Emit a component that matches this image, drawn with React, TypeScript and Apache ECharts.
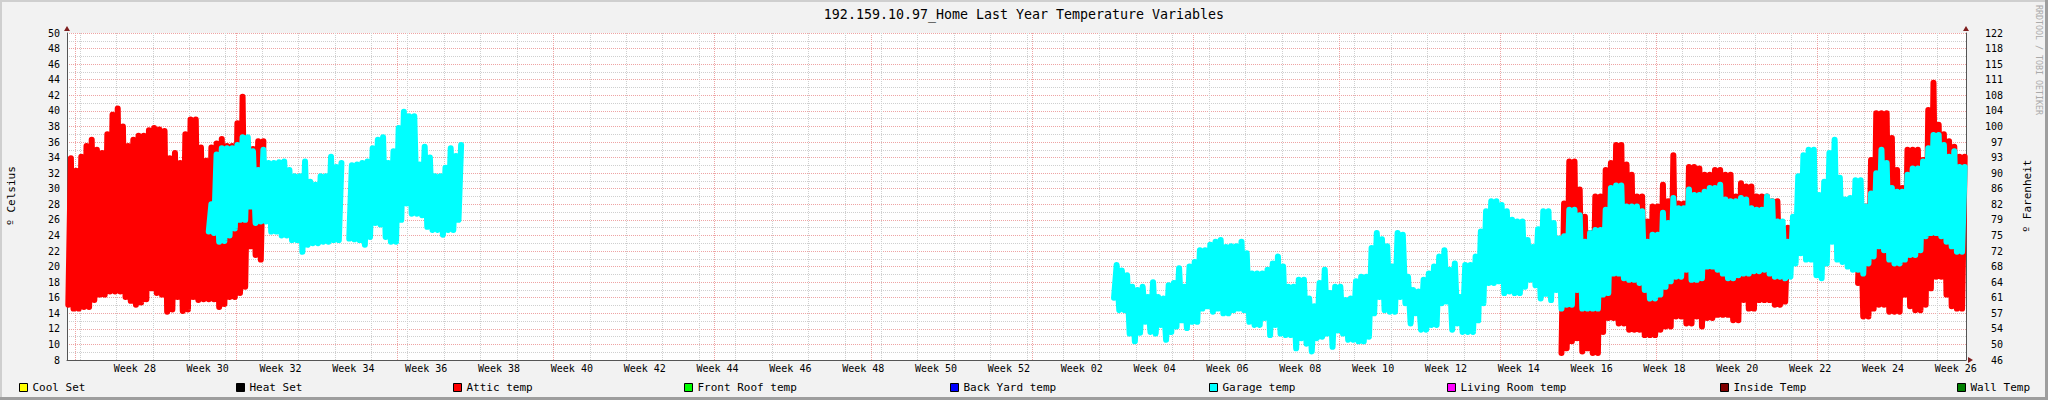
import React, { useEffect, useRef } from "react";
import * as echarts from "echarts";

// ---------- texts ----------
const TITLE = "192.159.10.97_Home Last Year Temperature Variables";
const Y_LEFT_NAME = "º Celsius";
const Y_RIGHT_NAME = "º Farenheit";
const WATERMARK = "RRDTOOL / TOBI OETIKER";

// ---------- axes ----------
const DAYS_IN_VIEW = 365;
const CELSIUS_MIN = 8;
const CELSIUS_MAX = 50;
const CELSIUS_STEP = 2;
const FAHRENHEIT_TICKS = [
  "46", "50", "54", "57", "61", "64", "68", "72", "75", "79", "82",
  "86", "90", "93", "97", "100", "104", "108", "111", "115", "118", "122",
];
const WEEK_LABELS = [
  "Week 28", "Week 30", "Week 32", "Week 34", "Week 36", "Week 38", "Week 40",
  "Week 42", "Week 44", "Week 46", "Week 48", "Week 50", "Week 52", "Week 02",
  "Week 04", "Week 06", "Week 08", "Week 10", "Week 12", "Week 14", "Week 16",
  "Week 18", "Week 20", "Week 22", "Week 24", "Week 26",
];
// day offsets (from the left edge of the graph) of calendar boundaries
const FIRST_MONDAY_DAY = 2.54;
const MONTH_START_DAYS = [
  1.54, 32.54, 63.54, 93.54, 124.54, 154.54, 185.54, 216.54, 244.54, 275.54, 305.54, 336.54,
];

// ---------- legend ----------
const LEGEND_NAMES = [
  "Cool Set", "Heat Set", "Attic temp", "Front Roof temp", "Back Yard temp",
  "Garage temp", "Living Room temp", "Inside Temp", "Wall Temp",
];
const LEGEND_COLORS = [
  "#FFFF00", "#000000", "#FF0000", "#00FF00", "#0000FF",
  "#00FFFF", "#FF00FF", "#800000", "#008000",
];

// ---------- data : daily low / high (°C), one entry per day ----------
const ATTIC_1_START = 0;
const ATTIC_1_HIGH = [
  33.9, 32.3, 34.1, 35.5, 36.3, 35.0, 34.6, 37.0, 39.5, 40.3,
  38.0, 35.5, 36.3, 36.8, 36.8, 37.5, 37.8, 37.6, 37.4, 33.9,
  34.6, 33.3, 37.0, 38.9, 38.9, 35.3, 33.6, 35.3, 35.8, 36.4,
  35.5, 35.5, 38.4, 41.8, 36.0, 35.1, 36.1, 36.1,
];
const ATTIC_1_LOW = [
  15.1, 14.6, 14.6, 14.8, 14.8, 15.7, 16.4, 16.4, 16.8, 16.8,
  16.8, 16.1, 15.6, 15.1, 15.4, 15.8, 17.2, 16.6, 16.4, 14.2,
  14.5, 16.1, 14.3, 14.5, 16.1, 15.7, 15.8, 15.8, 15.8, 14.8,
  15.2, 16.1, 16.1, 16.6, 17.4, 22.6, 21.5, 20.9,
];
const ATTIC_2_START = 287;
const ATTIC_2_HIGH = [
  28.1, 33.5, 33.5, 29.9, 26.4, 24.3, 29.0, 29.0, 32.4, 33.3,
  35.6, 35.6, 33.1, 31.8, 29.0, 29.0, 25.8, 27.7, 27.7, 30.5,
  28.4, 34.3, 28.1, 28.1, 32.8, 32.8, 32.6, 31.8, 31.8, 32.4,
  32.4, 31.8, 31.8, 29.0, 30.7, 30.3, 30.3, 29.0, 29.0, 29.0,
  28.4, 28.4, 25.0, 25.0,
];
const ATTIC_2_LOW = [
  8.9, 9.5, 10.4, 10.8, 9.1, 9.5, 8.9, 8.9, 11.6, 13.4,
  13.4, 12.7, 12.7, 11.9, 11.9, 11.9, 11.2, 11.2, 11.2, 11.9,
  12.3, 12.3, 13.6, 13.6, 12.7, 12.7, 13.6, 12.3, 13.4, 13.4,
  13.8, 13.8, 13.8, 13.1, 13.1, 15.7, 14.6, 14.6, 15.7, 15.7,
  15.7, 15.1, 15.1, 15.5,
];
const ATTIC_3_START = 344;
const ATTIC_3_HIGH = [
  27.7, 27.7, 33.7, 39.7, 39.7, 39.7, 36.5, 32.4, 30.1, 35.0,
  35.0, 35.0, 33.7, 40.1, 43.6, 38.2, 37.0, 36.1, 35.4, 34.1, 34.1,
];
const ATTIC_3_LOW = [
  17.9, 13.6, 13.6, 14.6, 15.1, 15.1, 14.2, 14.2, 14.2, 16.4,
  14.9, 14.4, 14.4, 15.1, 17.2, 18.7, 18.7, 16.4, 14.9, 14.6, 14.6,
];

const GARAGE_1_START = 27;
const GARAGE_1_HIGH = [
  28.0, 34.4, 35.2, 35.2, 35.2, 35.6, 36.6, 36.6, 34.8, 32.4,
  35.0, 33.3, 33.3, 33.4, 33.5, 32.4, 31.6, 31.6, 33.5, 30.9,
  30.5, 31.6, 31.6, 34.1, 32.8, 33.3, null, 33.0, 33.1, 33.3,
  33.5, 35.2, 36.3, 36.6, 33.3, 34.8, 37.8, 39.9, 39.3, 39.3,
  33.1, 35.4, 34.0, 31.6, 31.6, 32.7, 35.2, 34.2, 35.6,
];
const GARAGE_1_LOW = [
  24.5, 24.3, 23.2, 23.3, 24.0, 24.9, 26.0, 26.0, 27.7, 25.6,
  25.8, 25.8, 24.5, 24.5, 24.0, 24.0, 23.4, 23.4, 21.9, 22.8,
  23.0, 23.0, 23.2, 23.2, 23.4, 23.4, null, 23.6, 23.5, 23.4,
  22.8, 23.8, 25.6, 25.4, 23.8, 23.2, 23.2, 26.0, 28.1, 26.8,
  26.8, 26.6, 25.1, 24.7, 24.7, 24.1, 24.7, 24.7, 26.0,
];
const GARAGE_2_START = 201;
const GARAGE_2_HIGH = [
  20.2, 19.5, 18.9, 17.4, 17.0, 17.4, 16.1, 18.0, 16.1, 15.9,
  17.6, 17.9, 19.8, 17.4, 20.0, 20.6, 22.1, 22.1, 22.8, 23.2,
  23.4, 22.5, 22.6, 22.6, 23.2, 21.7, 19.1, 19.1, 19.1, 19.6,
  20.4, 21.3, 20.0, 17.4, 17.4, 18.3, 18.3, 15.9, 14.9, 17.9,
  19.6, 16.6, 17.4, 17.4, 15.7, 15.9, 18.1, 18.7, 18.7, 22.4,
  24.3, 23.5, 22.6, 20.0, 24.3, 24.1, 18.7, 17.0, 16.8, 18.3,
  19.1, 20.0, 21.3, 22.1, 19.6, 20.4, 16.1, 20.2, 20.2, 21.3,
  24.5, 27.1, 28.4, 28.4, 27.9, 27.1, 26.0, 25.8, 25.8, 23.4,
  22.5, 24.8, 27.1, 27.1, 25.6, 23.6, 23.9, 27.3, 27.3, 26.6,
  23.2, 24.3, 24.7, 24.7, 27.3, 30.1, 30.4, 30.4, 27.7, 27.7,
  27.7, 27.1, 23.2, 24.1, 24.1, 26.9, 25.6, 28.8, 27.5, 27.5,
  29.9, 29.2, 29.2, 29.6, 30.1, 30.1, 30.5, 28.6, 28.4, 28.4,
  28.8, 28.6, 27.5, 27.3, 27.3, 29.0, 28.4, 25.8, 25.8, 23.2,
  26.4, 31.6, 34.3, 35.0, 35.0, 29.2, 30.9, 34.6, 36.3, 31.4,
  28.6, 28.8, 31.1, 31.1, 27.7, 29.4, 32.0, 35.0, 33.3, 30.1,
  29.6, 29.6, 31.8, 32.6, 32.6, 33.5, 35.2, 36.9, 36.9, 35.6,
  34.1, 34.8, 32.8, 32.8,
];
const GARAGE_2_LOW = [
  16.0, 14.4, 14.4, 11.4, 10.4, 11.5, 12.9, 11.6, 11.4, 12.5,
  10.6, 11.6, 12.3, 13.1, 12.1, 12.9, 12.9, 14.6, 14.9, 14.2,
  14.6, 14.0, 14.0, 14.4, 14.6, 14.4, 12.9, 12.5, 12.5, 13.4,
  11.2, 12.5, 11.4, 11.2, 11.2, 9.5, 10.8, 10.1, 9.1, 10.8,
  11.0, 11.4, 9.7, 11.8, 11.4, 10.6, 10.6, 10.4, 10.4, 11.0,
  14.0, 16.1, 14.4, 14.2, 14.2, 16.1, 15.3, 12.7, 14.0, 11.9,
  11.9, 12.5, 12.5, 15.3, 15.5, 11.9, 12.7, 11.6, 11.6, 11.6,
  13.1, 15.3, 17.9, 17.9, 18.1, 16.6, 16.8, 16.6, 16.6, 17.4,
  18.3, 17.6, 15.9, 16.5, 15.7, 17.0, 14.6, 15.1, 15.1, 17.0,
  14.6, 14.6, 14.6, 14.6, 16.4, 16.6, 19.1, 19.1, 18.5, 18.3,
  18.3, 17.9, 17.0, 15.9, 15.9, 16.4, 17.4, 18.1, 18.7, 18.7,
  19.6, 18.3, 18.3, 18.5, 20.0, 20.0, 19.6, 19.1, 18.5, 18.5,
  18.9, 19.1, 19.1, 19.4, 19.4, 19.6, 19.1, 18.7, 18.7, 18.5,
  18.7, 20.4, 21.7, 20.9, 20.9, 18.9, 18.5, 20.4, 23.2, 20.9,
  20.6, 20.0, 19.6, 19.6, 19.1, 20.4, 21.3, 22.6, 22.1, 20.9,
  20.4, 20.4, 20.9, 21.5, 21.5, 22.1, 23.9, 24.3, 24.3, 23.9,
  23.2, 22.6, 21.9, 21.9,
];

type Seg = { start: number; low: (number | null)[]; high: (number | null)[] };

// each day drawn as low (early) and high (late) sample -> thick RRD-like line
function dailySwing(segs: Seg[]): [number, number | null][] {
  const pts: [number, number | null][] = [];
  segs.forEach((s, si) => {
    if (si > 0) pts.push([s.start - 0.5, null]);
    s.low.forEach((lo, i) => {
      const d = s.start + i;
      const hi = s.high[i];
      if (lo == null || hi == null) {
        pts.push([d + 0.5, null]);
        return;
      }
      pts.push([d + 0.25, lo]);
      pts.push([d + 0.75, hi]);
    });
  });
  return pts;
}

const MONO = "DejaVu Sans Mono";
const MAJOR_GRID = "#eea4a4";
const MINOR_GRID = "#cfcfcf";
const AXIS_COLOR = "#555555";
const ARROW_COLOR = "#7f1f1f";

export default function App() {
  const ref = useRef<HTMLDivElement>(null);

  useEffect(() => {
    document.body.style.margin = "0";
    if (!ref.current) return;
    const chart = echarts.init(ref.current, undefined, { renderer: "svg" });

    const W = 2048;
    const H = 400;
    const G = { left: 67, right: 82, top: 33, bottom: 40 };
    const gx0 = G.left;
    const gx1 = W - G.right;
    const gy0 = G.top;
    const gy1 = H - G.bottom;
    const pxPerDay = (gx1 - gx0) / DAYS_IN_VIEW;
    // snap a grid day onto a pixel centre so the 1px dotted lines stay crisp
    const snap = (d: number) => (Math.floor(gx0 + d * pxPerDay) + 0.5 - gx0) / pxPerDay;

    const weekGridDays: number[] = [];
    for (let d = FIRST_MONDAY_DAY; d < DAYS_IN_VIEW; d += 7) weekGridDays.push(snap(d));
    const monthGridDays = MONTH_START_DAYS.map(snap);
    const weekLabelDays = WEEK_LABELS.map((_, i) => FIRST_MONDAY_DAY + 7 + 3.5 + 14 * i);

    const atticData = dailySwing([
      { start: ATTIC_1_START, low: ATTIC_1_LOW, high: ATTIC_1_HIGH },
      { start: ATTIC_2_START, low: ATTIC_2_LOW, high: ATTIC_2_HIGH },
      { start: ATTIC_3_START, low: ATTIC_3_LOW, high: ATTIC_3_HIGH },
    ]);
    const garageData = dailySwing([
      { start: GARAGE_1_START, low: GARAGE_1_LOW, high: GARAGE_1_HIGH },
      { start: GARAGE_2_START, low: GARAGE_2_LOW, high: GARAGE_2_HIGH },
    ]);

    const dataFor: Record<string, [number, number | null][]> = {
      "Attic temp": atticData,
      "Garage temp": garageData,
    };

    const LEGEND_X = [19, 236, 453, 684, 950, 1209, 1447, 1720, 1957];

    const gridSeries = (name: string, days: number[], color: string) => ({
      name,
      type: "line",
      data: [[0, null]],
      silent: true,
      z: 1,
      markLine: {
        silent: true,
        symbol: ["none", "none"],
        label: { show: false },
        emphasis: { disabled: true },
        animation: false,
        lineStyle: { color, type: [1, 1], width: 1, opacity: 1 },
        data: days.map((d) => ({ xAxis: d })),
      },
    });

    const series: any[] = [
      gridSeries("_weekGrid", weekGridDays, MINOR_GRID),
      gridSeries("_monthGrid", monthGridDays, MAJOR_GRID),
    ];
    LEGEND_NAMES.forEach((name, i) => {
      series.push({
        name,
        type: "line",
        color: LEGEND_COLORS[i],
        data: dataFor[name] || [],
        showSymbol: false,
        symbol: "none",
        connectNulls: false,
        z: name === "Garage temp" ? 11 : 10,
        silent: true,
        lineStyle: { width: 6, color: LEGEND_COLORS[i], cap: "round", join: "round" },
      });
    });

    const option: any = {
      animation: false,
      backgroundColor: "#f2f2f2",
      title: {
        text: TITLE,
        left: "center",
        top: 3,
        textStyle: { fontFamily: MONO, fontSize: 13.3, fontWeight: "normal", color: "#000" },
      },
      grid: { ...G, show: true, backgroundColor: "#ffffff", borderWidth: 0 },
      xAxis: {
        type: "value",
        min: 0,
        max: DAYS_IN_VIEW,
        axisLine: { show: true, lineStyle: { color: AXIS_COLOR, width: 1 } },
        axisTick: { show: false },
        splitLine: { show: false },
        axisLabel: {
          customValues: weekLabelDays,
          formatter: (v: number) => {
            const i = weekLabelDays.findIndex((d) => Math.abs(d - v) < 0.01);
            return i >= 0 ? WEEK_LABELS[i] : "";
          },
          fontFamily: MONO,
          fontSize: 10,
          color: "#000",
          margin: 3,
        },
      },
      yAxis: [
        {
          type: "value",
          position: "left",
          min: CELSIUS_MIN,
          max: CELSIUS_MAX,
          interval: CELSIUS_STEP,
          axisLine: { show: true, lineStyle: { color: AXIS_COLOR, width: 1 } },
          axisTick: { show: false },
          axisLabel: { fontFamily: MONO, fontSize: 10, color: "#000", margin: 7 },
          splitLine: { show: true, lineStyle: { color: MAJOR_GRID, type: [1, 1], width: 1 } },
          minorTick: { show: false, splitNumber: 2 },
          minorSplitLine: { show: true, lineStyle: { color: MINOR_GRID, type: [1, 1], width: 1 } },
        },
        {
          type: "value",
          position: "right",
          min: CELSIUS_MIN,
          max: CELSIUS_MAX,
          interval: CELSIUS_STEP,
          axisLine: { show: true, lineStyle: { color: AXIS_COLOR, width: 1 } },
          axisTick: { show: false },
          splitLine: { show: false },
          axisLabel: {
            fontFamily: MONO,
            fontSize: 10,
            color: "#000",
            align: "right",
            margin: 37,
            formatter: (v: number) =>
              FAHRENHEIT_TICKS[Math.round((v - CELSIUS_MIN) / CELSIUS_STEP)] ?? "",
          },
        },
      ],
      legend: LEGEND_NAMES.map((name, i) => ({
        data: [name],
        left: LEGEND_X[i],
        top: 382,
        padding: 0,
        itemWidth: 8,
        itemHeight: 8,
        itemGap: 0,
        icon: "rect",
        selectedMode: false,
        itemStyle: { borderColor: "#000", borderWidth: 1 },
        textStyle: { fontFamily: MONO, fontSize: 11, color: "#000" },
      })),
      graphic: [
        { type: "rect", shape: { x: 0, y: 0, width: W, height: 2 }, style: { fill: "#cfcfcf" }, silent: true },
        { type: "rect", shape: { x: 0, y: 0, width: 2, height: H }, style: { fill: "#cfcfcf" }, silent: true },
        { type: "rect", shape: { x: 0, y: H - 3, width: W, height: 3 }, style: { fill: "#9e9e9e" }, silent: true },
        { type: "rect", shape: { x: W - 3, y: 0, width: 3, height: H }, style: { fill: "#9e9e9e" }, silent: true },
        {
          type: "polygon",
          shape: { points: [[gx0 - 3, gy0 - 2], [gx0 + 3, gy0 - 2], [gx0, gy0 - 7]] },
          style: { fill: ARROW_COLOR },
          silent: true,
        },
        {
          type: "polygon",
          shape: { points: [[gx1 - 3, gy0 - 2], [gx1 + 3, gy0 - 2], [gx1, gy0 - 7]] },
          style: { fill: ARROW_COLOR },
          silent: true,
        },
        {
          type: "polygon",
          shape: { points: [[gx1 + 2, gy1 - 3], [gx1 + 2, gy1 + 3], [gx1 + 7, gy1]] },
          style: { fill: ARROW_COLOR },
          silent: true,
        },
        {
          type: "text",
          x: 11,
          y: 196,
          rotation: Math.PI / 2,
          style: {
            text: Y_LEFT_NAME,
            fontFamily: MONO,
            fontSize: 11,
            fill: "#000",
            align: "center",
            verticalAlign: "middle",
          },
          silent: true,
        },
        {
          type: "text",
          x: 2027,
          y: 196,
          rotation: Math.PI / 2,
          style: {
            text: Y_RIGHT_NAME,
            fontFamily: MONO,
            fontSize: 11,
            fill: "#000",
            align: "center",
            verticalAlign: "middle",
          },
          silent: true,
        },
        {
          type: "text",
          x: 2039,
          y: 60,
          rotation: -Math.PI / 2,
          style: {
            text: WATERMARK,
            fontFamily: MONO,
            fontSize: 8.3,
            fill: "#aaaaaa",
            align: "center",
            verticalAlign: "middle",
          },
          silent: true,
        },
      ],
      series,
    };

    chart.setOption(option);
    return () => chart.dispose();
  }, []);

  return <div ref={ref} style={{ width: 2048, height: 400 }} />;
}
